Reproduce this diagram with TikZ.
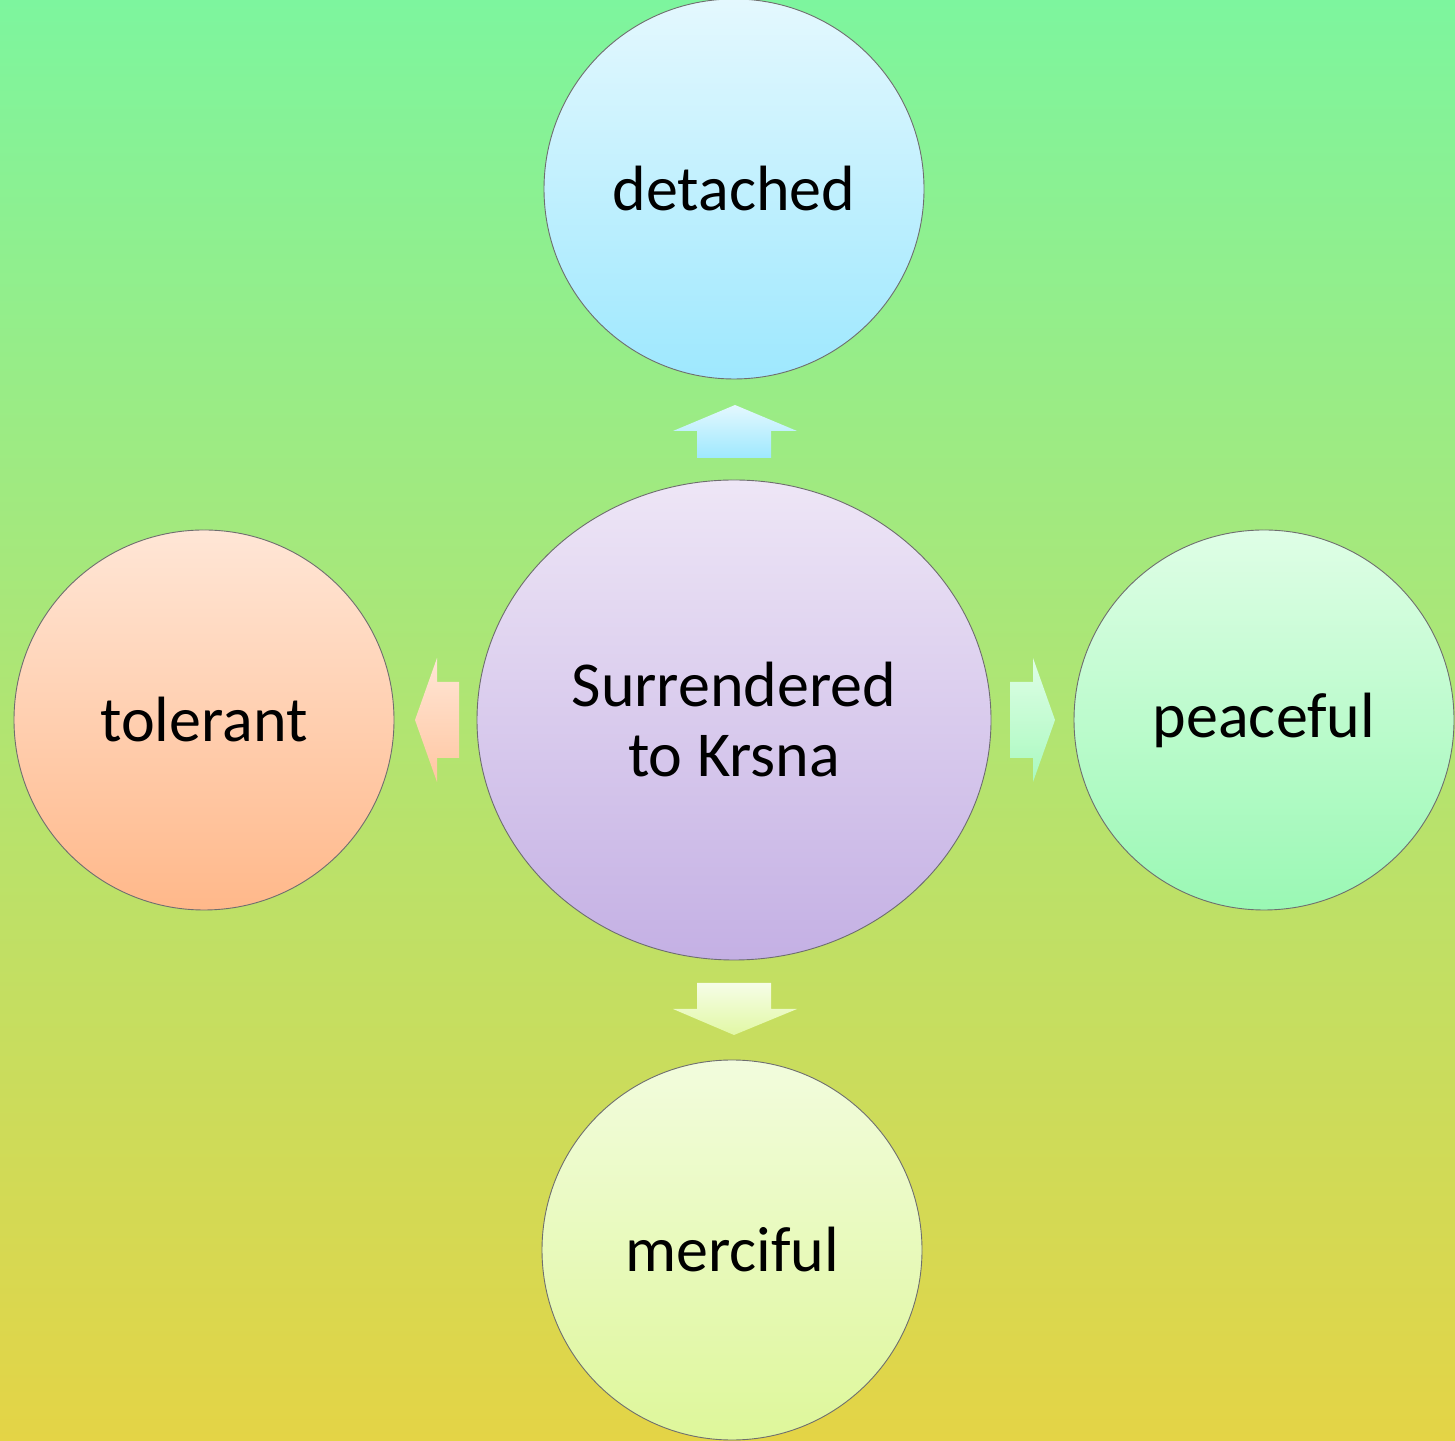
\documentclass[tikz,border=0pt]{standalone}
\usepackage{fontspec}
\setmainfont{Carlito}
\usetikzlibrary{shapes.geometric}
\definecolor{bgtop}{RGB}{125,245,158}
\definecolor{bgbot}{RGB}{228,212,70}
\definecolor{rim}{RGB}{110,110,110}
\definecolor{blueT}{RGB}{228,248,254}\definecolor{blueB}{RGB}{158,232,254}
\definecolor{purT}{RGB}{238,230,246}\definecolor{purB}{RGB}{196,176,228}
\definecolor{orT}{RGB}{255,230,214}\definecolor{orB}{RGB}{255,184,138}
\definecolor{grT}{RGB}{223,254,230}\definecolor{grB}{RGB}{154,248,180}
\definecolor{yeT}{RGB}{242,252,221}\definecolor{yeB}{RGB}{222,247,154}
\tikzset{
  bubble/.style={circle,draw=rim,line width=0.9pt,minimum size=380pt,inner sep=0pt,
    font=\fontsize{64}{70}\selectfont,align=center,text=black},
  blockarrow/.style={draw=none}
}
\begin{document}
\begin{tikzpicture}[x=1pt,y=1pt]
\useasboundingbox (0,0) rectangle (1455,1440);
\shade[top color=bgtop,bottom color=bgbot] (0,0) rectangle (1455,1440);
% nodes
\node[bubble,top color=blueT,bottom color=blueB] (det) at (734,1251) {detached};
\node[bubble,ellipse,minimum width=514pt,minimum height=480pt,top color=purT,bottom color=purB] (ctr) at (734,720) {Surrendered\\to Krsna};
\node[bubble,top color=orT,bottom color=orB] (tol) at (204,720) {tolerant};
\node[bubble,top color=grT,bottom color=grB] (pea) at (1264,720) {peaceful};
\node[bubble,top color=yeT,bottom color=yeB] (mer) at (732,190) {merciful};
% block arrows
\shade[blockarrow,top color=blueT,bottom color=blueB]
  (697,982) -- (697,1009) -- (673,1009) -- (735,1035) -- (797,1009) -- (771,1009) -- (771,982) -- cycle;
\shade[blockarrow,top color=yeT!70!white,bottom color=yeB!90!white]
  (697,457) -- (697,431) -- (673,431) -- (734,405) -- (797,431) -- (771,431) -- (771,457) -- cycle;
\shade[blockarrow,top color=orT,bottom color=orB!80!white]
  (459,682) -- (437,682) -- (437,658) -- (415,720) -- (437,782) -- (437,758) -- (459,758) -- cycle;
\shade[blockarrow,top color=grT,bottom color=grB!85!white]
  (1010,682) -- (1033,682) -- (1033,658) -- (1055,720) -- (1033,782) -- (1033,758) -- (1010,758) -- cycle;
\end{tikzpicture}
\end{document}
